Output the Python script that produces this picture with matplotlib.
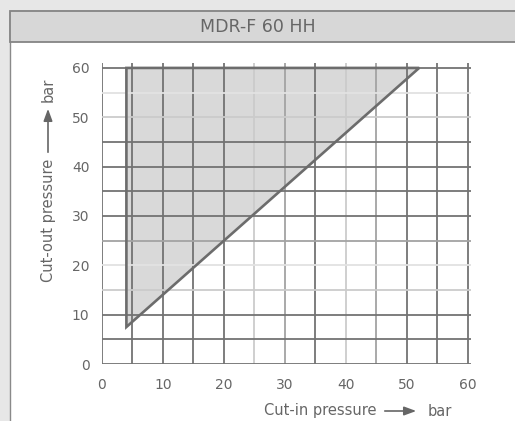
import numpy as np
import matplotlib
matplotlib.use('Agg')
import matplotlib.pyplot as plt
from matplotlib.patches import Rectangle, Polygon, FancyArrowPatch

# switching range of the pressure switch (cut-in vs cut-out, bar)
cut_in = [4, 4, 52]
cut_out = [7.5, 60, 60]

x_ticks = [0, 10, 20, 30, 40, 50, 60]
y_ticks = [0, 10, 20, 30, 40, 50, 60]
grid_x = [0, 5, 10, 15, 20, 25, 30, 35, 40, 45, 50, 55, 60]
grid_y = [0, 5, 10, 15, 20, 25, 30, 35, 40, 45, 50, 55, 60]

title = 'MDR-F 60 HH'

# grid shades (the scanned chart has uneven line darkness)
D, M, L, F = '#737373', '#a3a3a3', '#cbcbcb', '#e2e2e2'
shade_x = [D, D, D, D, D, L, M, D, L, M, D, D, D]
shade_y = [D, D, D, L, F, M, D, D, D, D, L, F, D]

txt = '#666666'
plt.rcParams['font.family'] = ['DejaVu Sans']

fig = plt.figure(figsize=(5.15, 4.21), dpi=100)
fig.patch.set_facecolor('#e7e7e7')

# white panel + grey title band
W, H = 515.0, 421.0
fig.patches.append(Rectangle((10 / W, -0.01), 1, 1.01 - 11 / H, transform=fig.transFigure,
                             facecolor='white', edgecolor='#8a8a8a', lw=1, zorder=-2))
fig.patches.append(Rectangle((10 / W, 1 - 42 / H), 1, 31 / H, transform=fig.transFigure,
                             facecolor='#d7d7d7', edgecolor='#858585', lw=1.3, zorder=-1))
fig.text(258 / W, 1 - 27 / H, title, ha='center', va='center', fontsize=12.5, color=txt)

ax = fig.add_axes([102 / W, 57 / H, 369 / W, 301 / H])
ax.set_facecolor('none')
ax.set_xlim(0, 60.5)
ax.set_ylim(0, 61)
for s in ax.spines.values():
    s.set_visible(False)

# range area
pts = np.column_stack([cut_in, cut_out])
ax.add_patch(Polygon(pts, closed=True, facecolor='#d9d9d9', edgecolor='none', zorder=1))

for x, c in zip(grid_x, shade_x):
    ax.axvline(x, color=c, lw=1.3, zorder=2)
for y, c in zip(grid_y, shade_y):
    ax.axhline(y, color=c, lw=1.3, zorder=2)

ax.add_patch(Polygon(pts, closed=True, facecolor='none', edgecolor='#6c6c6c', lw=1.9,
                     joinstyle='miter', zorder=3))

ax.set_xticks(x_ticks)
ax.set_yticks(y_ticks)
ax.tick_params(length=0, labelsize=10, labelcolor=txt)
ax.tick_params(axis='x', pad=10)
ax.tick_params(axis='y', pad=9)

# axis titles with arrows
fig.text(377 / W, 1 - 411 / H, 'Cut-in pressure', ha='right', va='center', fontsize=10.5, color=txt)
fig.text(428 / W, 1 - 411 / H, 'bar', ha='left', va='center', fontsize=10.5, color=txt)
fig.add_artist(FancyArrowPatch((382 / W, 1 - 411 / H), (419 / W, 1 - 411 / H),
               transform=fig.transFigure, arrowstyle='-|>,head_length=0.6,head_width=0.22',
               mutation_scale=12, color='#666666', lw=1.2))
fig.text(48 / W, 1 - 282 / H, 'Cut-out pressure', ha='center', va='bottom', rotation=90,
         fontsize=10.5, color=txt)
fig.text(48 / W, 1 - 78 / H, 'bar', ha='center', va='top', rotation=90, fontsize=10.5, color=txt)
fig.add_artist(FancyArrowPatch((48 / W, 1 - 155 / H), (48 / W, 1 - 106 / H),
               transform=fig.transFigure, arrowstyle='-|>,head_length=0.6,head_width=0.22',
               mutation_scale=12, color='#666666', lw=1.2))

fig.savefig('out.png', dpi=100, facecolor=fig.get_facecolor())
